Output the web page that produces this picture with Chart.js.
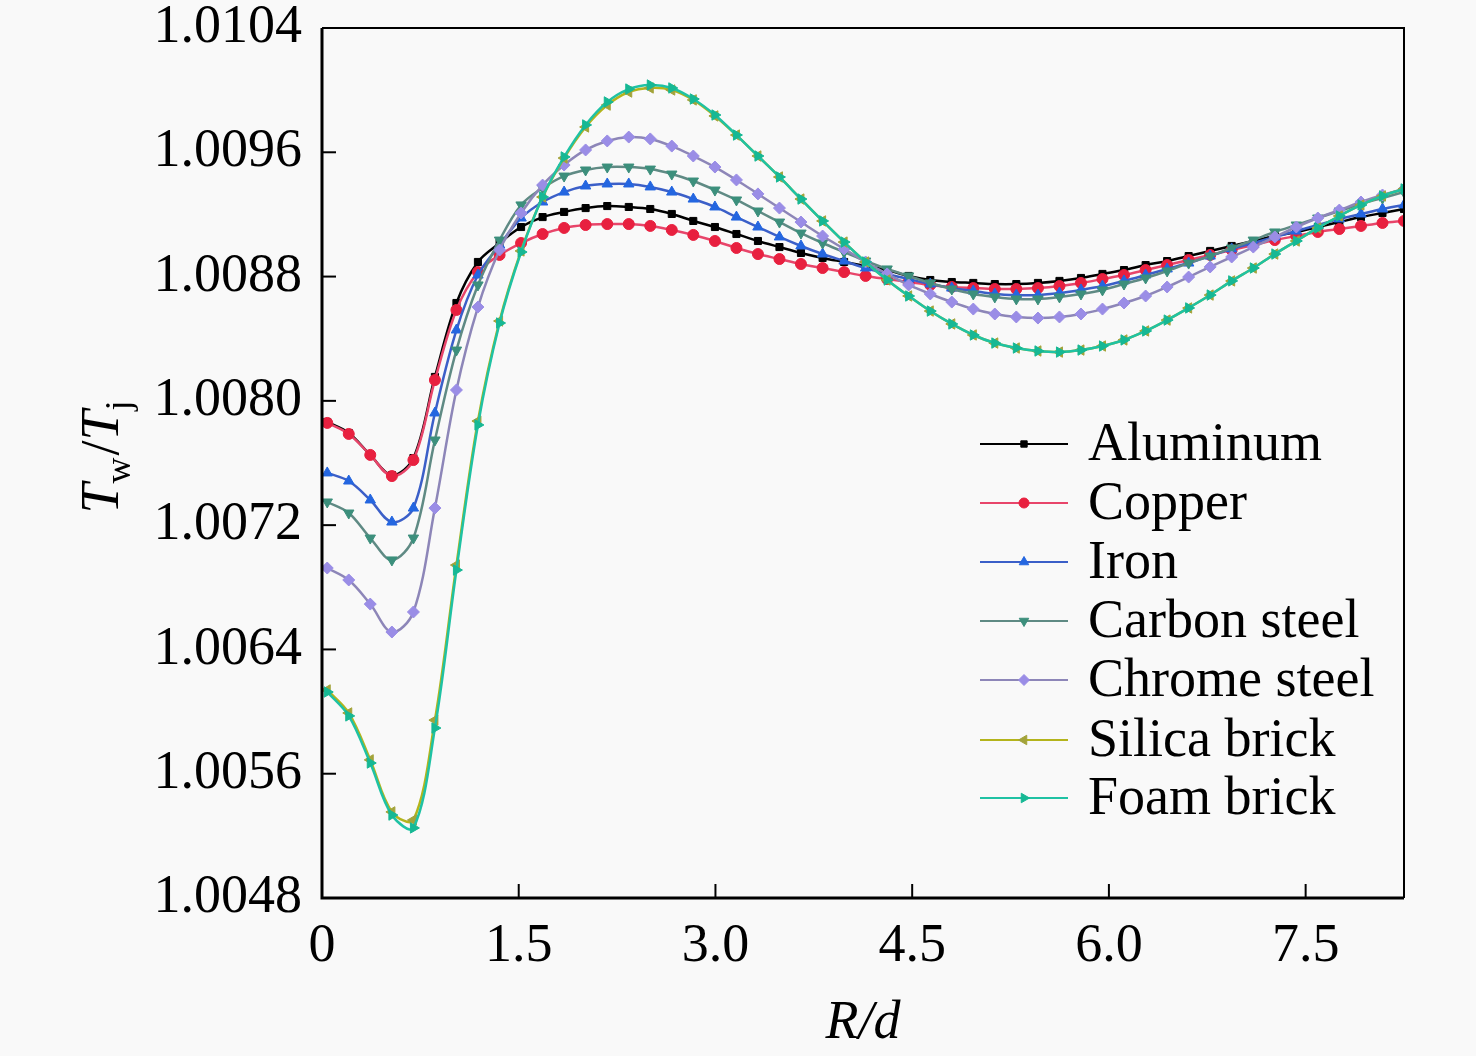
<!DOCTYPE html>
<html><head><meta charset="utf-8">
<script src="https://cdn.jsdelivr.net/npm/chart.js@4.4.1/dist/chart.umd.min.js"></script>
<style>html,body{margin:0;padding:0;background:#fff;}#wrap{width:1476px;height:1056px;}</style>
</head><body><div id="wrap"><canvas id="c" width="1476" height="1056"></canvas></div>
<script>
const xValues = [0.040,0.204,0.368,0.533,0.697,0.861,1.025,1.189,1.354,1.518,
 1.682,1.846,2.010,2.175,2.339,2.503,2.667,2.831,2.996,3.160,
 3.324,3.488,3.652,3.817,3.981,4.145,4.309,4.473,4.638,4.802,
 4.966,5.130,5.294,5.459,5.623,5.787,5.951,6.115,6.280,6.444,
 6.608,6.772,6.936,7.101,7.265,7.429,7.593,7.757,7.922,8.086,8.250];
const xTicks = [0,1.5,3.0,4.5,6.0,7.5];
const yTicks = [1.0048,1.0056,1.0064,1.0072,1.0080,1.0088,1.0096,1.0104];
const seriesNames = ['Aluminum','Copper','Iron','Carbon steel','Chrome steel','Silica brick','Foam brick'];
const aluminum = [1.007864,1.007793,1.007652,1.007522,1.007632,1.008154,1.008630,1.008894,1.009016,1.009119,
 1.009183,1.009216,1.009241,1.009254,1.009248,1.009235,1.009203,1.009158,1.009119,1.009074,
 1.009029,1.008990,1.008952,1.008920,1.008894,1.008868,1.008842,1.008804,1.008778,1.008765,
 1.008759,1.008752,1.008752,1.008759,1.008772,1.008791,1.008817,1.008842,1.008874,1.008900,
 1.008932,1.008965,1.008997,1.009029,1.009061,1.009087,1.009119,1.009151,1.009183,1.009209,1.009235];
const copper = [1.007858,1.007787,1.007652,1.007516,1.007619,1.008134,1.008585,1.008829,1.008939,1.009016,
 1.009074,1.009113,1.009132,1.009138,1.009138,1.009126,1.009100,1.009068,1.009029,1.008984,
 1.008945,1.008913,1.008881,1.008855,1.008829,1.008804,1.008784,1.008765,1.008746,1.008733,
 1.008726,1.008720,1.008720,1.008726,1.008739,1.008759,1.008784,1.008810,1.008842,1.008874,
 1.008907,1.008939,1.008971,1.009003,1.009035,1.009061,1.009087,1.009106,1.009126,1.009145,1.009158];
const iron = [1.007536,1.007484,1.007362,1.007220,1.007310,1.007922,1.008456,1.008810,1.009003,1.009177,
 1.009280,1.009344,1.009383,1.009396,1.009396,1.009377,1.009344,1.009299,1.009248,1.009183,
 1.009119,1.009055,1.008997,1.008945,1.008900,1.008855,1.008817,1.008784,1.008752,1.008726,
 1.008707,1.008688,1.008681,1.008681,1.008694,1.008714,1.008739,1.008772,1.008810,1.008849,
 1.008887,1.008932,1.008978,1.009016,1.009055,1.009093,1.009132,1.009171,1.009203,1.009235,1.009261];
const carbonSteel = [1.007349,1.007278,1.007117,1.006976,1.007117,1.007748,1.008327,1.008746,1.009035,1.009261,
 1.009370,1.009447,1.009486,1.009505,1.009505,1.009492,1.009460,1.009415,1.009357,1.009293,
 1.009222,1.009151,1.009080,1.009016,1.008958,1.008900,1.008849,1.008804,1.008759,1.008720,
 1.008688,1.008669,1.008656,1.008656,1.008669,1.008688,1.008714,1.008752,1.008791,1.008836,
 1.008887,1.008932,1.008984,1.009035,1.009087,1.009132,1.009177,1.009222,1.009267,1.009306,1.009344];
const chromeSteel = [1.006924,1.006847,1.006692,1.006512,1.006641,1.007310,1.008070,1.008604,1.008971,1.009209,
 1.009389,1.009518,1.009615,1.009673,1.009698,1.009686,1.009640,1.009576,1.009505,1.009422,
 1.009332,1.009241,1.009151,1.009061,1.008978,1.008894,1.008817,1.008746,1.008688,1.008636,
 1.008591,1.008559,1.008540,1.008533,1.008540,1.008559,1.008591,1.008630,1.008675,1.008733,
 1.008797,1.008862,1.008926,1.008990,1.009055,1.009119,1.009177,1.009228,1.009280,1.009325,1.009364];
const silicaBrick = [1.006139,1.005991,1.005689,1.005354,1.005302,1.005945,1.006943,1.007870,1.008514,1.008965,
 1.009312,1.009563,1.009763,1.009904,1.009988,1.010014,1.010001,1.009937,1.009834,1.009711,
 1.009576,1.009441,1.009299,1.009158,1.009022,1.008894,1.008778,1.008675,1.008578,1.008495,
 1.008424,1.008372,1.008340,1.008321,1.008314,1.008327,1.008353,1.008392,1.008450,1.008520,
 1.008598,1.008681,1.008772,1.008855,1.008945,1.009029,1.009113,1.009190,1.009261,1.009319,1.009364];
const foamBrick = [1.006126,1.005972,1.005669,1.005334,1.005251,1.005894,1.006911,1.007845,1.008501,1.008958,
 1.009312,1.009570,1.009776,1.009924,1.010007,1.010033,1.010014,1.009943,1.009840,1.009711,
 1.009576,1.009441,1.009299,1.009158,1.009022,1.008894,1.008778,1.008675,1.008578,1.008495,
 1.008424,1.008372,1.008340,1.008321,1.008314,1.008327,1.008353,1.008392,1.008450,1.008520,
 1.008598,1.008681,1.008772,1.008855,1.008945,1.009029,1.009113,1.009190,1.009261,1.009319,1.009364];

const seriesValues = [aluminum, copper, iron, carbonSteel, chromeSteel, silicaBrick, foamBrick];
const lineColors = ['#000000','#e8456a','#3b5fc8','#5f8a84','#8d86b8','#b4b41c','#1fc2a4'];
const markColors = ['#000000','#e8203f','#2466e0','#3c8f7c','#9a8de6','#a3a33a','#16b894'];
const markStyles = ['rect','circle','triangle','triangle','rectRot','triangle','triangle'];
const markRot = [0,0,0,180,0,-90,90];
const markRadius = [5,5.5,6,6,6,6,6];

const SERIF = '"Liberation Serif","Times New Roman",serif';

const datasets = seriesNames.map((name,k)=>({
  label: name,
  data: xValues.map((x,i)=>({x:x, y:seriesValues[k][i]})),
  borderColor: lineColors[k],
  backgroundColor: markColors[k],
  pointBackgroundColor: markColors[k],
  pointBorderColor: markColors[k],
  pointStyle: markStyles[k],
  pointRotation: markRot[k],
  pointRadius: markRadius[k],
  pointBorderWidth: 1,
  borderWidth: 2.5,
  tension: 0.35,
  fill: false,
  order: 7-k
}));

const framePlugin = {
  id: 'frame',
  beforeDraw(chart){
    const ctx = chart.ctx;
    ctx.save();
    ctx.fillStyle = '#f9f9f9';
    ctx.fillRect(0,0,chart.width,chart.height);
    ctx.restore();
  },
  afterDraw(chart){
    const ctx = chart.ctx, a = chart.chartArea, xs = chart.scales.x, ys = chart.scales.y;
    ctx.save();
    ctx.strokeStyle = '#000';
    ctx.lineWidth = 2;
    ctx.beginPath();
    ctx.moveTo(a.left, a.top); ctx.lineTo(a.right, a.top); ctx.lineTo(a.right, a.bottom);
    ctx.stroke();
    ctx.lineWidth = 3;
    ctx.beginPath();
    ctx.moveTo(a.left, a.top); ctx.lineTo(a.left, a.bottom); ctx.lineTo(a.right, a.bottom);
    ctx.stroke();
    ctx.lineWidth = 2;
    yTicks.forEach(v=>{
      if (v===yTicks[0] || v===yTicks[yTicks.length-1]) return;
      const py = ys.getPixelForValue(v);
      ctx.beginPath(); ctx.moveTo(a.left, py); ctx.lineTo(a.left+14, py); ctx.stroke();
    });
    xTicks.forEach(v=>{
      if (v===0) return;
      const px = xs.getPixelForValue(v);
      ctx.beginPath(); ctx.moveTo(px, a.bottom); ctx.lineTo(px, a.bottom-14); ctx.stroke();
    });
    ctx.fillStyle = '#000';
    ctx.textBaseline = 'alphabetic';
    ctx.textAlign = 'center';
    ctx.font = 'italic 54px ' + SERIF;
    ctx.fillText('R/d', (a.left+a.right)/2, 1038);
    ctx.save();
    ctx.translate(118, 458);
    ctx.rotate(-Math.PI/2);
    const big = 'italic 54px ' + SERIF, small = '36px ' + SERIF, slash = '54px ' + SERIF;
    const parts = [['T',big,0],['w',small,12],['/',slash,0],['T',big,0],['j',small,12]];
    let total = 0;
    parts.forEach(p=>{ ctx.font = p[1]; total += ctx.measureText(p[0]).width; });
    let cx = -total/2;
    ctx.textAlign = 'left';
    parts.forEach(p=>{ ctx.font = p[1]; ctx.fillText(p[0], cx, p[2]); cx += ctx.measureText(p[0]).width + (p[0]==='w'?2:0); });
    ctx.restore();
    const rows = [444,503,562,621,680,740,798];
    chart.data.datasets.forEach((ds,k)=>{
      const yy = rows[k];
      ctx.strokeStyle = ds.borderColor;
      ctx.lineWidth = 2;
      ctx.beginPath(); ctx.moveTo(980, yy); ctx.lineTo(1068, yy); ctx.stroke();
      ctx.fillStyle = ds.pointBackgroundColor;
      ctx.strokeStyle = ds.pointBorderColor;
      ctx.lineWidth = 1;
      if (Chart.helpers && Chart.helpers.drawPoint) {
        Chart.helpers.drawPoint(ctx, {pointStyle: ds.pointStyle, rotation: ds.pointRotation, radius: ds.pointRadius-0.5, borderWidth: 1}, 1024, yy);
      } else {
        ctx.beginPath(); ctx.arc(1024, yy, 5, 0, Math.PI*2); ctx.fill();
      }
      ctx.fillStyle = '#000';
      ctx.font = '54px ' + SERIF;
      ctx.textAlign = 'left';
      ctx.textBaseline = 'middle';
      ctx.fillText(ds.label, 1088, yy+2);
    });
    ctx.restore();
  }
};

new Chart(document.getElementById('c'), {
  type: 'line',
  data: { datasets },
  options: {
    responsive: false,
    devicePixelRatio: 1,
    animation: false,
    layout: { padding: { left: 0, top: 28, right: 72, bottom: 0 } },
    plugins: { legend: { display: false }, tooltip: { enabled: false } },
    scales: {
      x: {
        type: 'linear', min: 0, max: 8.25,
        afterBuildTicks: s => { s.ticks = xTicks.map(v=>({value:v})); },
        afterFit: s => { s.height = 1056 - 898; s.paddingLeft = 0; s.paddingRight = 0; },
        grid: { display: false, drawTicks: false },
        border: { display: false },
        ticks: {
          padding: 16, color: '#000', maxRotation: 0, autoSkip: false,
          font: { family: SERIF, size: 54 },
          callback: v => v===0 ? '0' : Number(v).toFixed(1)
        }
      },
      y: {
        type: 'linear', min: 1.0048, max: 1.0104,
        afterBuildTicks: s => { s.ticks = yTicks.map(v=>({value:v})); },
        afterFit: s => { s.width = 322; s.paddingTop = 0; s.paddingBottom = 0; },
        grid: { display: false, drawTicks: false },
        border: { display: false },
        ticks: {
          padding: 20, color: '#000', autoSkip: false,
          font: { family: SERIF, size: 54 },
          callback: v => Number(v).toFixed(4)
        }
      }
    }
  },
  plugins: [framePlugin]
});
</script></body></html>
